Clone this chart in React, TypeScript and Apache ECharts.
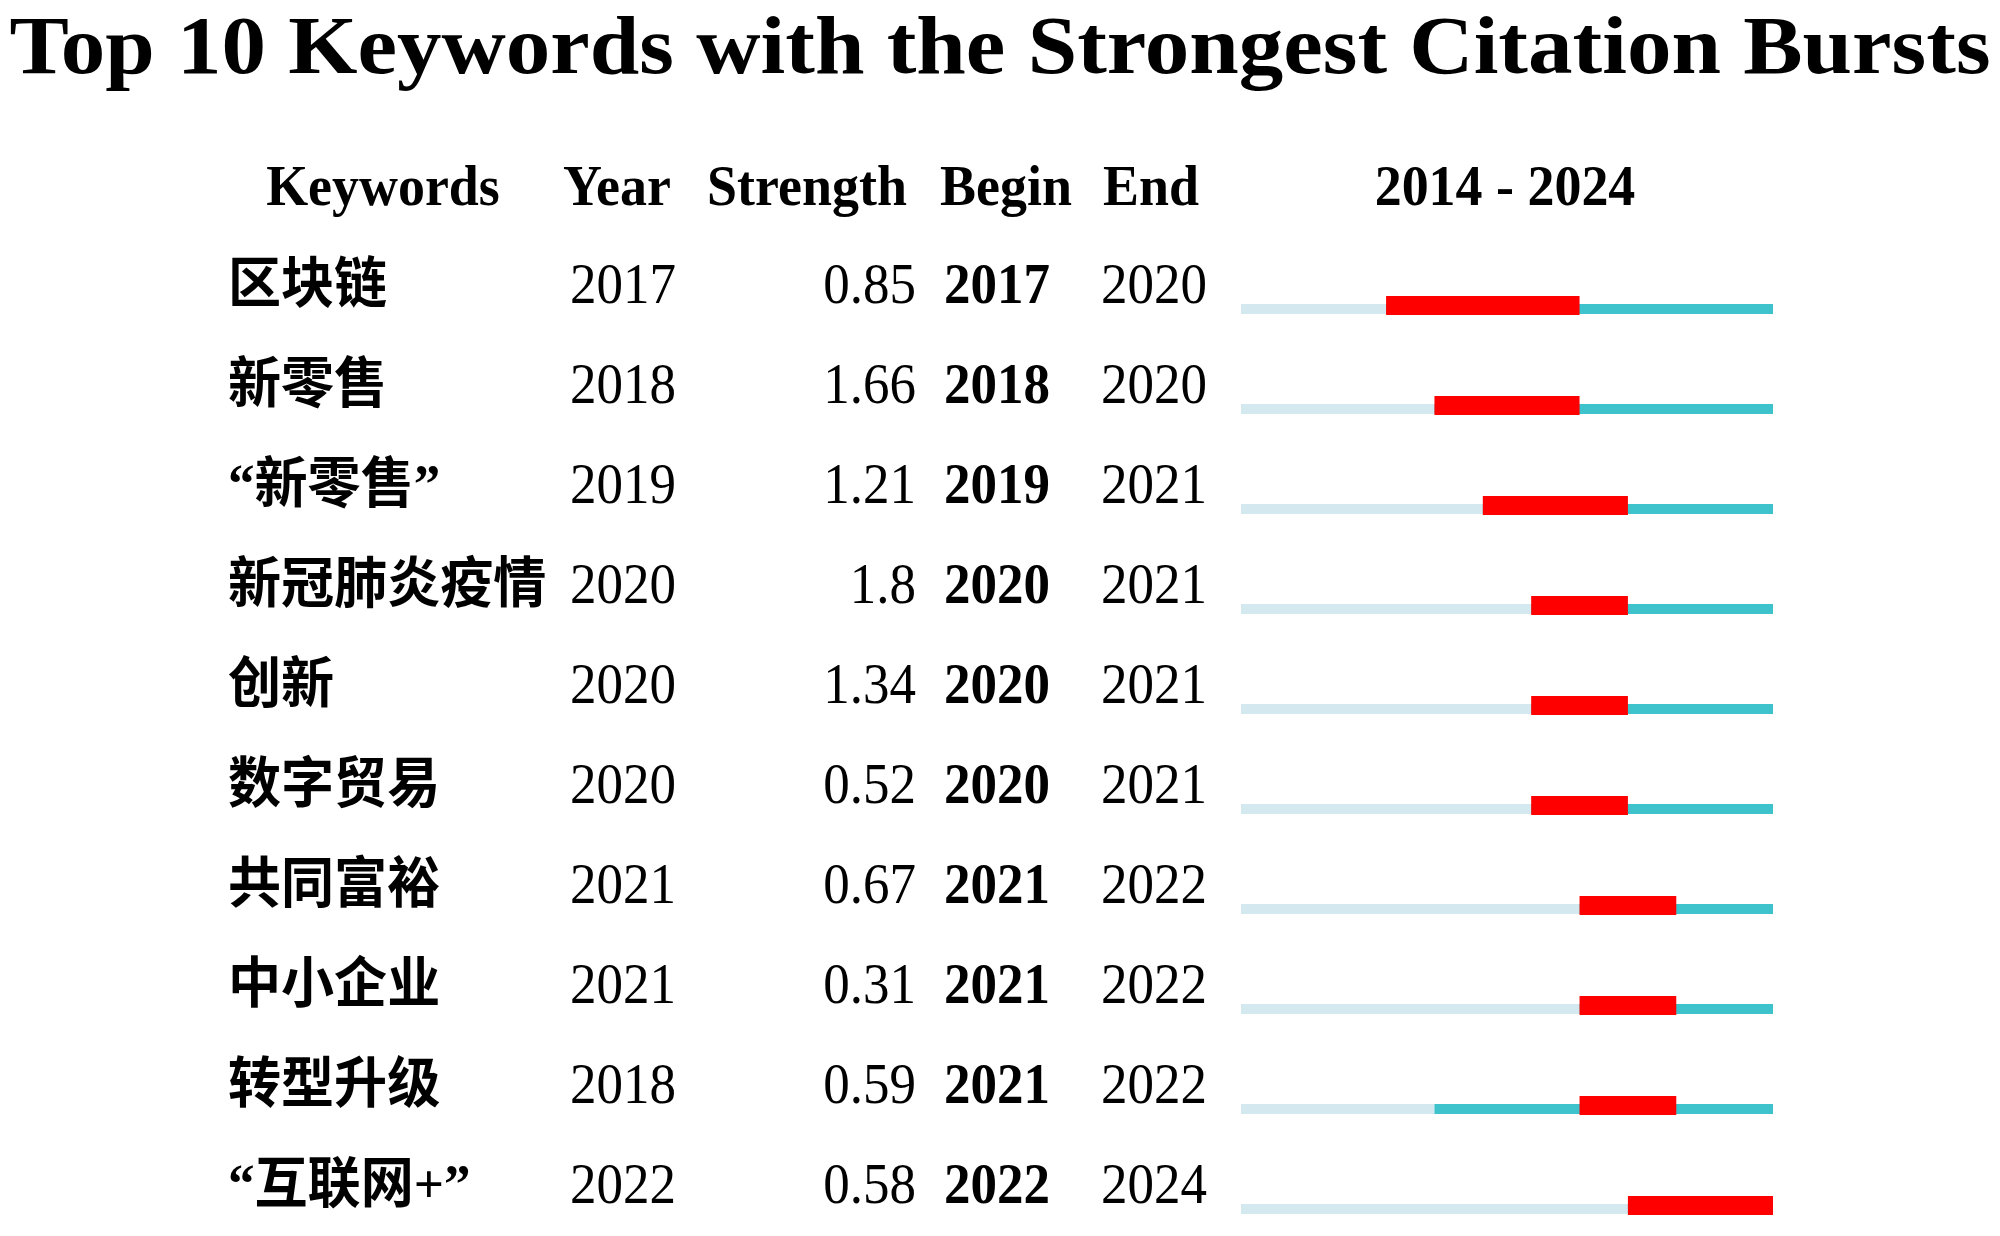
import React, { useEffect, useRef } from 'react';
import * as echarts from 'echarts';

const titleText = 'Top 10 Keywords with the Strongest Citation Bursts';
const headers = ['Keywords', 'Year', 'Strength', 'Begin', 'End'];
const keywords = ['区块链', '新零售', '“新零售”', '新冠肺炎疫情', '创新', '数字贸易', '共同富裕', '中小企业', '转型升级', '“互联网+”'];
const years = [2017, 2018, 2019, 2020, 2020, 2020, 2021, 2021, 2018, 2022];
const strengths = [0.85, 1.66, 1.21, 1.8, 1.34, 0.52, 0.67, 0.31, 0.59, 0.58];
const begins = [2017, 2018, 2019, 2020, 2020, 2020, 2021, 2021, 2021, 2022];
const ends = [2020, 2020, 2021, 2021, 2021, 2021, 2022, 2022, 2022, 2024];
const rangeStart = 2014;
const rangeEnd = 2024;

const SERIF = "'Liberation Serif', 'Noto Sans CJK SC', serif";
const SX = 0.93;
const LIGHT = '#d3e9ef';
const TEAL = '#3ec3cc';
const RED = '#fe0000';

// column anchors (pixels)
const COL_KEY = 228;
const COL_YEAR = 570;
const COL_STRENGTH = 916;
const COL_BEGIN = 944;
const COL_END = 1101;
const HEAD_X = [383, 617, 807, 1006, 1151];
const HEAD_RANGE_X = 1505;

function txt(text: string, x: number, y: number, size: number, bold: boolean, align: string, sx = SX) {
  return {
    type: 'text',
    x,
    y,
    scaleX: sx,
    style: {
      text,
      fontSize: size,
      fontFamily: SERIF,
      fontWeight: bold ? 'bold' : 'normal',
      fill: '#000',
      align,
      verticalAlign: 'middle',
      textAlign: align,
      textVerticalAlign: 'middle',
    },
  };
}

export default function App() {
  const ref = useRef<HTMLDivElement>(null);
  useEffect(() => {
    const chart = echarts.init(ref.current as HTMLDivElement, null, { renderer: 'svg' });
    const rows = keywords.map((k, i) => [i, years[i], begins[i], ends[i], strengths[i]]);

    const graphic: any[] = [
      txt(titleText, 1000, 46, 82, true, 'center', 1.086),
      ...headers.map((h, i) => txt(h, HEAD_X[i], 185, 58, true, 'center')),
      txt(`${rangeStart} - ${rangeEnd}`, HEAD_RANGE_X, 185, 58, true, 'center'),
    ];

    const option: any = {
      animation: false,
      backgroundColor: '#ffffff',
      grid: { left: 1241, right: 227, top: 309, bottom: 27 },
      xAxis: { type: 'value', min: rangeStart, max: rangeEnd + 1, show: false },
      yAxis: { type: 'value', min: 0, max: keywords.length - 1, inverse: true, show: false },
      graphic,
      series: [
        {
          type: 'custom',
          name: 'bursts',
          data: rows,
          encode: { x: [1, 2, 3], y: 0 },
          silent: true,
          renderItem: (params: any, api: any) => {
            const row = api.value(0);
            const year = api.value(1);
            const b = api.value(2);
            const e = api.value(3);
            const [x0, y] = api.coord([rangeStart, row]);
            const [xY] = api.coord([year, row]);
            const [xB] = api.coord([b, row]);
            const [xE] = api.coord([e + 1, row]);
            const [x1] = api.coord([rangeEnd + 1, row]);
            return {
              type: 'group',
              children: [
                { type: 'rect', shape: { x: x0, y: y - 5, width: xY - x0, height: 10 }, style: { fill: LIGHT } },
                { type: 'rect', shape: { x: xY, y: y - 5, width: x1 - xY, height: 10 }, style: { fill: TEAL } },
                { type: 'rect', shape: { x: xB, y: y - 13, width: xE - xB, height: 19 }, style: { fill: RED } },
              ],
            };
          },
        },
        {
          type: 'custom',
          name: 'table',
          data: rows,
          encode: { x: 1, y: 0 },
          silent: true,
          renderItem: (params: any, api: any) => {
            const i = params.dataIndex;
            const [, yRow] = api.coord([rangeStart, api.value(0)]);
            const y = yRow - 25;
            return {
              type: 'group',
              children: [
                txt(keywords[i], COL_KEY, y, 55, true, 'left', 0.965),
                txt(String(years[i]), COL_YEAR, y, 57, false, 'left'),
                txt(String(strengths[i]), COL_STRENGTH, y, 57, false, 'right'),
                txt(String(begins[i]), COL_BEGIN, y, 57, true, 'left'),
                txt(String(ends[i]), COL_END, y, 57, false, 'left'),
              ],
            };
          },
        },
      ],
    };
    chart.setOption(option);
    return () => chart.dispose();
  }, []);
  return (
    <div
      ref={ref}
      style={{ position: 'absolute', left: 0, top: 0, width: 2000, height: 1236, background: '#fff' }}
    />
  );
}
